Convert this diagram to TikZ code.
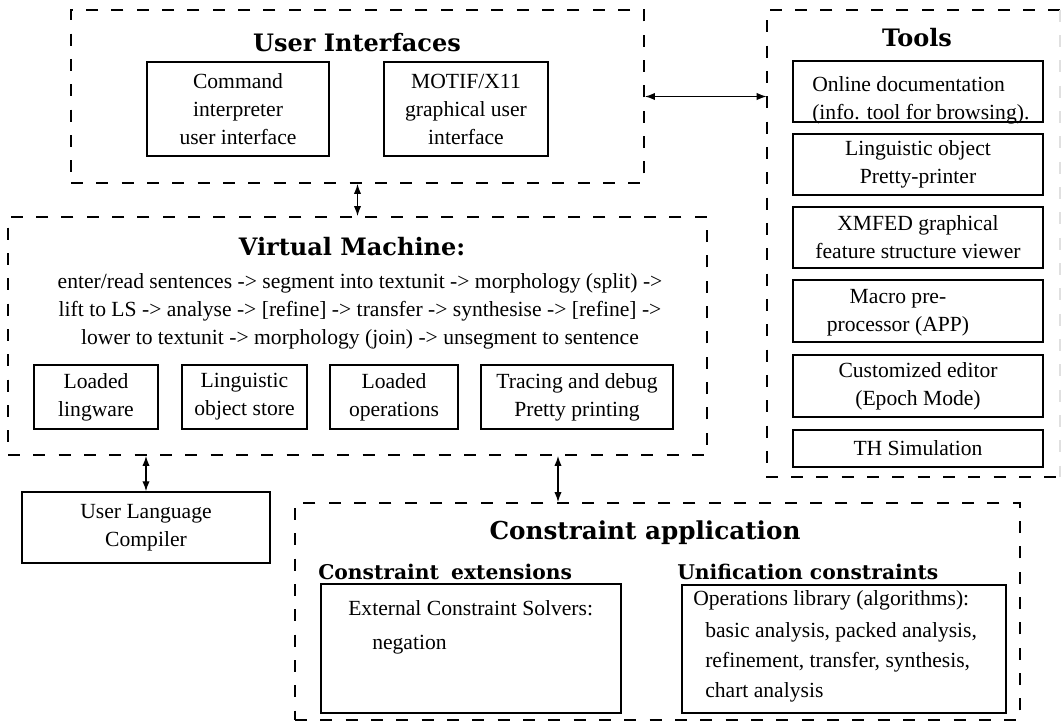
\documentclass[tikz,border=0pt]{standalone}
\usepackage{fontspec}
\setmainfont{Liberation Serif}
\newfontfamily\titlefont{DejaVu Serif}
\usetikzlibrary{arrows.meta}
\newcommand\bodyf{\fontsize{16.2}{21}\selectfont}
% \bx[style]{name}{x1}{y1}{x2}{y2}{text}
\newcommand\bx[7][box]{\node[#1, minimum width={(#5-#3)*0.75pt}, minimum height={(#6-#4)*0.75pt}] (#2) at ({(#3+#5)/2},{(#4+#6)/2}) {#7};}
\begin{document}
\begin{tikzpicture}[x=0.75pt,y=-0.75pt,
  group/.style={draw, line width=1.4pt, dash pattern=on 9pt off 10pt, inner sep=0pt},
  box/.style={draw, line width=1.1pt, inner sep=0pt, align=center, font=\bodyf},
  frame/.style={inner sep=0pt},
  txt/.style={inner sep=0pt, font=\bodyf},
  ttl/.style={inner sep=0pt, font=\titlefont\bfseries\fontsize{18}{22}\selectfont},
  bigttl/.style={inner sep=0pt, font=\titlefont\bfseries\fontsize{18.5}{22}\selectfont},
  subttl/.style={inner sep=0pt, font=\titlefont\bfseries\fontsize{15.2}{18}\selectfont},
  dbl/.style={line width=1pt, {Latex[length=7.5pt,width=5.5pt]}-{Latex[length=7.5pt,width=5.5pt]}}
]
\useasboundingbox (0,0) rectangle (1064,724);

% User interfaces
\bx[group]{ui}{71}{10}{644}{183}{}
\node[ttl] (uit) at (357,43) {User Interfaces};
\bx{cmd}{147}{62}{329}{156}{Command\\interpreter\\user interface}
\bx{motif}{384}{62}{548}{156}{MOTIF/X11\\graphical user\\interface}

% Tools
\bx[frame]{tools}{767}{10}{1060}{477}{}
\draw[line width=1.4pt, dash pattern=on 9pt off 10pt] (tools.north east) -- (tools.north west) -- (tools.south west) -- (tools.south east);
\draw[line width=1.4pt, dash pattern=on 9pt off 10pt, black!12] (tools.north east) -- (tools.south east);
\node[ttl] (toolst) at (917,38) {Tools};
\bx{t1}{793}{61}{1043}{122}{}
\node[txt, anchor=base west] (t1a) at (812,92) {Online documentation};
\node[txt, anchor=base west] (t1b) at (812,119) {(info. tool for browsing).};
\bx{t2}{793}{134}{1043}{195}{Linguistic object\\Pretty-printer}
\bx{t3}{793}{207}{1043}{268}{XMFED graphical\\feature structure viewer}
\bx{t4}{793}{280}{1043}{342}{}
\node[txt, align=center] (t4a) at (898,313) {Macro pre-\\processor (APP)};
\bx{t5}{793}{355}{1043}{417}{Customized editor\\(Epoch Mode)}
\bx{t6}{793}{430}{1043}{467}{TH Simulation}

% Virtual machine
\bx[group]{vm}{8}{217}{707}{455}{}
\node[ttl] (vmt) at (352,247) {Virtual Machine:};
\node[txt, align=center] (proc) at (360,311) {enter/read sentences -> segment into textunit -> morphology (split) ->\\
lift to LS -> analyse -> [refine] -> transfer -> synthesise -> [refine] ->\\
lower to textunit -> morphology (join) -> unsegment to sentence};
\bx{lw}{34}{365}{158}{429}{Loaded\\lingware}
\bx{los}{182}{365}{307}{429}{Linguistic\\object store}
\bx{lop}{330}{365}{458}{429}{Loaded\\operations}
\bx{trc}{481}{365}{673}{429}{Tracing and debug\\Pretty printing}

% User language compiler
\bx{ulc}{22}{492}{270}{563}{User Language\\Compiler}

% Constraint application
\bx[group]{ca}{295}{503}{1020}{720}{}
\node[bigttl] (cat) at (645,533) {Constraint application};
\node[subttl, anchor=west] (cet) at (318,572) {Constraint\hspace{0.6em}extensions};
\node[subttl, anchor=west] (uct) at (677,572) {Unification constraints};
\bx{ext}{321}{584}{621}{713}{}
\node[txt, anchor=west] (exta) at (348,608) {External Constraint Solvers:};
\node[txt, anchor=west] (extb) at (372,645) {negation};
\bx{ops}{682}{585}{1006}{713}{}
\node[txt, anchor=west] (opsa) at (693,600) {Operations library (algorithms):};
\node[txt, anchor=west] (opsb) at (705,632) {basic analysis, packed analysis,};
\node[txt, anchor=west] (opsc) at (705,662) {refinement, transfer, synthesis,};
\node[txt, anchor=west] (opsd) at (705,692) {chart analysis};

% connectors
\draw[dbl] (ui.south) -- (vm.north);
\draw[dbl] (ui.east) -- (tools.west |- ui.east);
\draw[dbl] (ulc.north |- vm.south) -- (ulc.north);
\coordinate (caarrow) at (558,480);
\draw[dbl] (caarrow |- vm.south) -- (caarrow |- ca.north);
\end{tikzpicture}
\end{document}
